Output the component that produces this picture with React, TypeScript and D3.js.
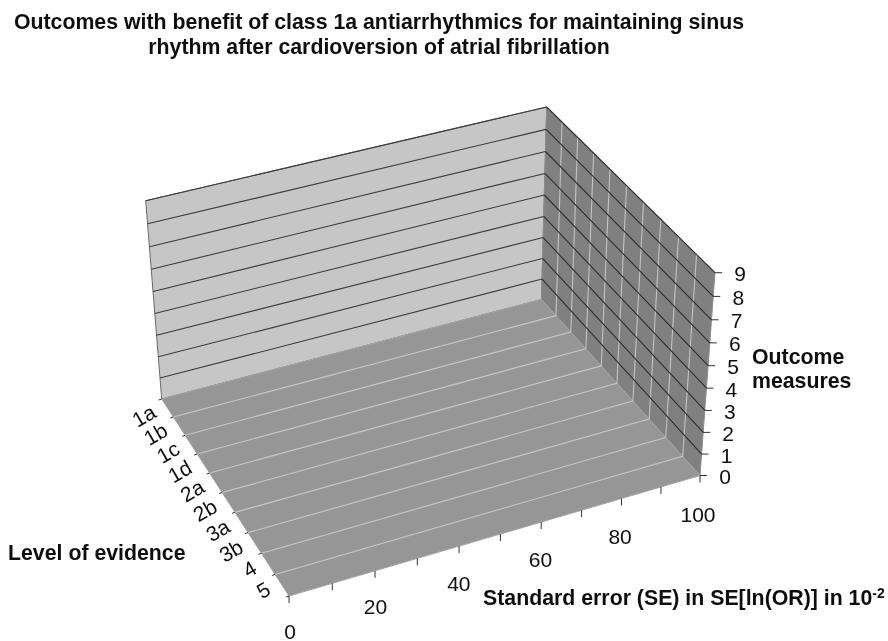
import React from "react";
import * as d3 from "d3";

const titleLines = [
  "Outcomes with benefit of class 1a antiarrhythmics for maintaining sinus",
  "rhythm after cardioversion of atrial fibrillation",
];
const levels = ["1a", "1b", "1c", "1d", "2a", "2b", "3a", "3b", "4", "5"];
const seTicks = [0, 10, 20, 30, 40, 50, 60, 70, 80, 90, 100];
const seLabels = [0, 20, 40, 60, 80, 100];
const outcomeTicks = [0, 1, 2, 3, 4, 5, 6, 7, 8, 9];

type P = [number, number];
// Corners of the box as drawn in the picture
const floorBackLeft: P = [161.7, 399];
const floorBackRight: P = [541.5, 299.5];
const floorFrontRight: P = [700, 475.5];
const floorFrontLeft: P = [289, 596];
const topBackLeft: P = [145.7, 200.7];
const topBackRight: P = [546.7, 107];
const topFrontRight: P = [715, 272.7];

// Projective map from the unit square to a quad: (0,0)->a (1,0)->b (1,1)->c (0,1)->d
function quadMap(a: P, b: P, c: P, d: P) {
  const dx1 = b[0] - c[0], dx2 = d[0] - c[0], sx = a[0] - b[0] + c[0] - d[0];
  const dy1 = b[1] - c[1], dy2 = d[1] - c[1], sy = a[1] - b[1] + c[1] - d[1];
  const den = dx1 * dy2 - dx2 * dy1;
  const g = (sx * dy2 - dx2 * sy) / den;
  const h = (dx1 * sy - sx * dy1) / den;
  const A = b[0] - a[0] + g * b[0], B = d[0] - a[0] + h * d[0];
  const D = b[1] - a[1] + g * b[1], E = d[1] - a[1] + h * d[1];
  return (u: number, v: number): P => {
    const w = g * u + h * v + 1;
    return [(A * u + B * v + a[0]) / w, (D * u + E * v + a[1]) / w];
  };
}

const seScale = d3.scaleLinear().domain([0, 100]).range([0, 1]);
const bandScale = d3.scaleLinear().domain([0, levels.length]).range([0, 1]);
const outScale = d3.scaleLinear().domain([0, 9]).range([0, 1]);
const seLabelDx = d3.scaleLinear().domain([0, 100]).range([1, -2]);
const seLabelDy = d3.scaleLinear().domain([0, 100]).range([35.5, 39]);

const floor = quadMap(floorBackLeft, floorBackRight, floorFrontRight, floorFrontLeft);
const backWall = quadMap(floorBackLeft, floorBackRight, topBackRight, topBackLeft);
const sideWall = quadMap(floorBackRight, floorFrontRight, topFrontRight, topBackRight);

const poly = (pts: P[]) => (d3.line()(pts) ?? "") + "Z";
const seg = (a: P, b: P) => d3.line()([a, b]) ?? "";

const FONT = "'Liberation Sans', Arial, sans-serif";
const TICK_SIZE = 21;
const TITLE_SIZE = 21.3;
const bandsInner = d3.range(1, levels.length);

export default function App() {
  return (
    <svg
      width={888}
      height={641}
      viewBox="0 0 888 641"
      style={{ position: "absolute", left: 0, top: 0, fontFamily: FONT, background: "#fff" }}
    >
      <defs>
        <filter id="soft" x="-5%" y="-5%" width="110%" height="110%">
          <feGaussianBlur stdDeviation="0.5" />
        </filter>
      </defs>
      <g filter="url(#soft)">
        {/* walls and floor */}
        <path d={poly([floorBackLeft, floorBackRight, topBackRight, topBackLeft])} fill="#c6c6c6" stroke="#6a6a6a" strokeWidth={1} />
        <path d={poly([floorBackRight, floorFrontRight, topFrontRight, topBackRight])} fill="#808080" stroke="#8c8c8c" strokeWidth={1} />
        <path d={poly([floorBackLeft, floorBackRight, floorFrontRight, floorFrontLeft])} fill="#969696" stroke="#a4a4a4" strokeWidth={1} />

        {/* back wall grid */}
        {outcomeTicks.slice(1).map((t) => (
          <path key={`bw${t}`} d={seg(backWall(0, outScale(t)), backWall(1, outScale(t)))} stroke="#3c3c3c" strokeWidth={1.1} fill="none" />
        ))}
        {/* side wall grid */}
        {bandsInner.map((b) => (
          <path key={`sv${b}`} d={seg(sideWall(bandScale(b), 0), sideWall(bandScale(b), 1))} stroke="#c2c2c2" strokeWidth={1.1} fill="none" />
        ))}
        {outcomeTicks.slice(1).map((t) => (
          <path key={`sw${t}`} d={seg(sideWall(0, outScale(t)), sideWall(1, outScale(t)))} stroke="#2e2e2e" strokeWidth={1.1} fill="none" />
        ))}
        {/* floor grid */}
        {bandsInner.map((b) => (
          <path key={`fl${b}`} d={seg(floor(0, bandScale(b)), floor(1, bandScale(b)))} stroke="#c8c8c8" strokeWidth={1.1} fill="none" />
        ))}

        {/* ticks */}
        {d3.range(0, levels.length + 1).map((b) => {
          const p = floor(0, bandScale(b));
          return <path key={`lt${b}`} d={seg(p, [p[0] - 3, p[1] + 1])} stroke="#333" strokeWidth={1} />;
        })}
        {seTicks.map((t) => {
          const p = floor(seScale(t), 1);
          return <path key={`st${t}`} d={seg(p, [p[0], p[1] + 7])} stroke="#333" strokeWidth={1} />;
        })}
        {outcomeTicks.map((t) => {
          const p = sideWall(1, outScale(t));
          return <path key={`ot${t}`} d={seg(p, [p[0] + 7, p[1]])} stroke="#333" strokeWidth={1} />;
        })}

        {/* tick labels */}
        {levels.map((l, i) => {
          const p = floor(0, bandScale(i + 0.5));
          const x = p[0] - 13.5;
          const y = p[1] + 2;
          return (
            <text key={l} transform={`translate(${x},${y}) rotate(-30)`} textAnchor="end" dominantBaseline="central" fontSize={TICK_SIZE} fill="#111">
              {l}
            </text>
          );
        })}
        {seLabels.map((t) => {
          const p = floor(seScale(t), 1);
          return (
            <text key={t} x={p[0] + seLabelDx(t)} y={p[1] + seLabelDy(t)} textAnchor="middle" dominantBaseline="central" fontSize={TICK_SIZE} fill="#111">
              {t}
            </text>
          );
        })}
        {outcomeTicks.map((t) => {
          const p = sideWall(1, outScale(t));
          return (
            <text key={t} x={p[0] + 25} y={p[1] + 1} textAnchor="middle" dominantBaseline="central" fontSize={TICK_SIZE} fill="#111">
              {t}
            </text>
          );
        })}

        {/* title */}
        {titleLines.map((s, i) => (
          <text key={i} x={379} y={29 + i * 25} textAnchor="middle" fontSize={TITLE_SIZE} fontWeight="bold" fill="#111">
            {s}
          </text>
        ))}

        {/* axis titles */}
        <text x={8} y={560} fontSize={TITLE_SIZE} fontWeight="bold" fill="#111">Level of evidence</text>
        <text x={752} y={364} fontSize={TITLE_SIZE} fontWeight="bold" fill="#111">Outcome</text>
        <text x={752} y={388} fontSize={TITLE_SIZE} fontWeight="bold" fill="#111">measures</text>
        <text x={483} y={605} fontSize={TITLE_SIZE} fontWeight="bold" fill="#111">
          Standard error (SE) in SE[ln(OR)] in 10
          <tspan fontSize={14} dy={-7}>-2</tspan>
        </text>
      </g>
    </svg>
  );
}
